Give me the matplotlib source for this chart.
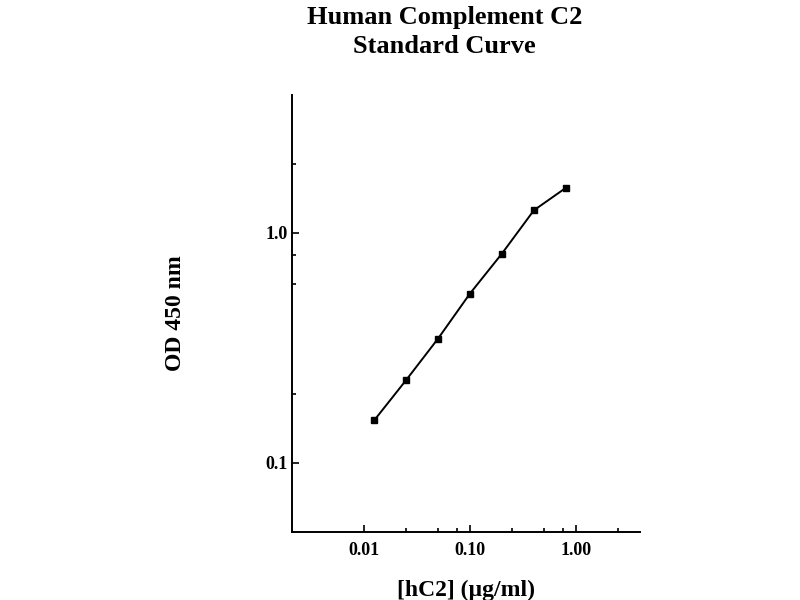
import matplotlib.pyplot as plt
from matplotlib.ticker import FixedLocator, NullFormatter

# hC2 concentration (ug/ml) and OD 450 nm readings
conc = [0.0125, 0.025, 0.05, 0.1, 0.2, 0.4, 0.8]
od = [0.153, 0.229, 0.347, 0.545, 0.813, 1.254, 1.57]

x_major = [0.01, 0.1, 1.0]
x_labels = ["0.01", "0.10", "1.00"]
x_minor = [0.025, 0.05, 0.075, 0.25, 0.5, 0.75, 2.5]
y_major = [0.1, 1.0]
y_labels = ["0.1", "1.0"]
y_minor = [0.2, 0.6, 0.8, 2.0]

plt.rcParams['font.family'] = ['Liberation Serif', 'DejaVu Serif']
plt.rcParams['font.weight'] = 'bold'

fig = plt.figure(figsize=(8, 6), dpi=100)
ax = fig.add_axes([0.365, 0.1133, 0.435, 0.7284])

ax.plot(conc, od, color='black', lw=1.4, marker='s', ms=4.5)

ax.set_xscale('log')
ax.set_yscale('log')
ax.set_xlim(0.0021, 4.0)
ax.set_ylim(0.05, 3.98)

ax.xaxis.set_major_locator(FixedLocator(x_major))
ax.set_xticklabels(x_labels)
ax.xaxis.set_minor_locator(FixedLocator(x_minor))
ax.xaxis.set_minor_formatter(NullFormatter())
ax.yaxis.set_major_locator(FixedLocator(y_major))
ax.set_yticklabels(y_labels)
ax.yaxis.set_minor_locator(FixedLocator(y_minor))
ax.yaxis.set_minor_formatter(NullFormatter())

ax.tick_params(which='major', direction='in', length=5, width=1.2, labelsize=13)
ax.tick_params(axis='x', which='major', pad=7)
ax.tick_params(axis='y', which='major', pad=3)
ax.tick_params(which='minor', direction='in', length=3, width=1.2)

for side in ['top', 'right']:
    ax.spines[side].set_visible(False)
for side in ['left', 'bottom']:
    ax.spines[side].set_linewidth(1.4)

ax.set_xlabel("[hC2] (µg/ml)", fontsize=17, fontweight='bold', labelpad=15)
ax.set_ylabel("OD 450 nm", fontsize=17, fontweight='bold', labelpad=57)

fig.text(0.556, 0.99, "Human Complement C2\nStandard Curve", ha='center', va='top',
         fontsize=19, fontweight='bold', linespacing=1.35)

fig.savefig("out.png", dpi=100)
